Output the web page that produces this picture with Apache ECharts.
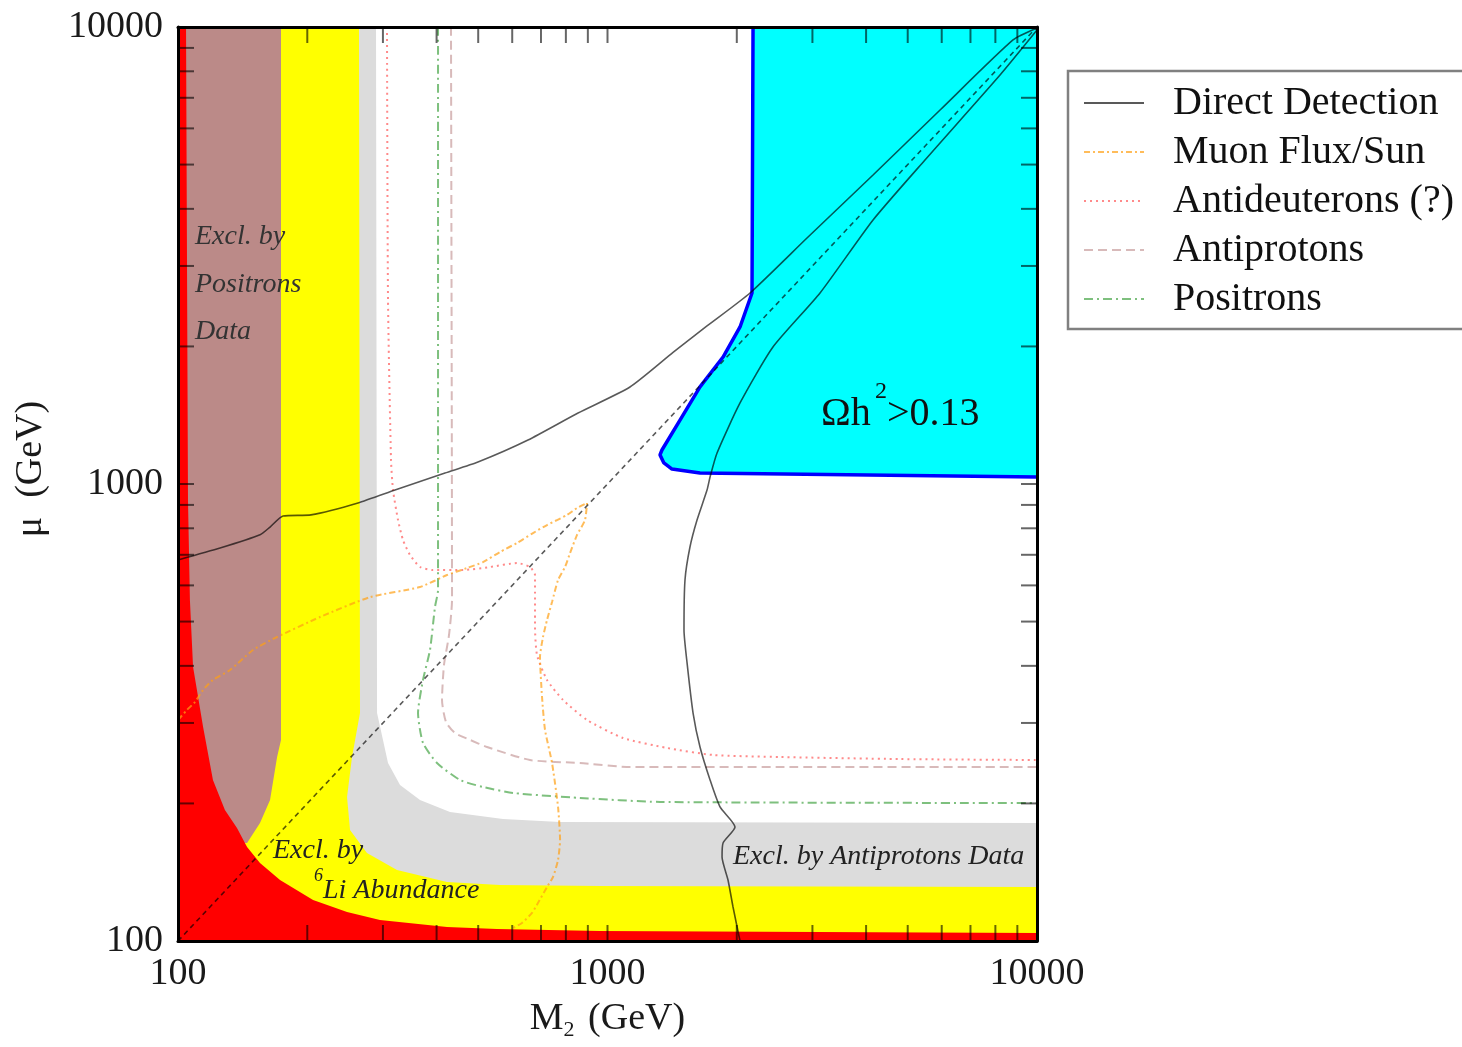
<!DOCTYPE html>
<html><head><meta charset="utf-8">
<script src="https://cdn.jsdelivr.net/npm/echarts@6/dist/echarts.min.js"></script>
<style>html,body{margin:0;padding:0;background:#fff}#c{width:1462px;height:1047px}</style>
</head><body><div id="c"></div>
<script>
// ---------------- data (M2 [GeV], mu [GeV]) ----------------
const xRange = [100, 10000];
const yRange = [100, 10000];
const majorTickLabels = [100, 1000, 10000];
const tickValues = [200,300,400,500,600,700,800,900,1000,2000,3000,4000,5000,6000,7000,8000,9000];

// excluded regions (boundary curves)
const redEdge = [[104.4,10000],[105.5,923],[106.6,557],[108.4,398],[114.4,294],[120.6,225],[128.6,193.5],[137.2,176.7],[144.8,160.6],[155.2,148.1],[172.8,136],[206.3,122.9],[247.5,115.7],[295.3,111.2],[423,107.3],[553,106.2],[960,105.2],[10000,104.1]];
const brownEdge = [[173.7,10000],[173.7,275.4],[170.1,252.7],[163.8,203.5],[155.2,181.3],[144.8,163.9]];
const yellowEdge = [[263.9,10000],[265.3,315.4],[259.7,282.3],[254.2,252.7],[247.5,206.6],[251.5,175],[275.4,155.8],[323.5,143],[423,134.6],[561.8,132.6],[960.5,131.9],[10000,131.3]];
const greyEdge = [[289.1,10000],[290.7,315.4],[300.1,275.4],[308.3,245.2],[328.8,219.4],[366,203.5],[429.8,191.5],[571,184.9],[775.4,182.2],[10000,181.3]];
const omegaEdge = [[2182,10000],[2170,2618],[2035,2206],[1858,1896],[1642,1631],[1475,1380],[1339,1187],[1325,1158],[1353,1112],[1413,1078],[1642,1057],[10000,1036]];

// curves
const directDetectionA = [[100,682],[125.3,724],[155.2,774],[163.8,805],[175.6,851],[204,856],[262.5,909],[320.1,970],[418.5,1057],[499.4,1117],[653,1248],[854,1430],[1128,1630],[1421,1940],[1705,2217],[2147,2618],[2914,3453],[4152,4744],[5947,6582],[8793,9367],[10000,9950]];
const directDetectionB = [[2035,100],[1960,118.7],[1908,136],[1848,152.7],[1858,163.9],[1981,177.7],[1828,196.5],[1733,225.1],[1642,265.8],[1582,315.4],[1532,405.9],[1507,479.2],[1515,616.4],[1556,728],[1616,834],[1705,970],[1733,1036],[1799,1169],[2035,1504],[2428,1994],[3125,2618],[4152,3782],[5485,5117],[8202,7852],[10000,9849]];
const muEqualsM2 = [[100,100],[1000,1000],[10000,10000]];
const muonFlux = [[100,304.5],[104.9,320.2],[109.5,333.4],[114.4,354.3],[120.6,372.6],[132.2,391.7],[149.5,433.3],[170.1,462.6],[214.1,511.6],[280,565.6],[366,595.1],[423,632.1],[470.8,654.8],[513,674.9],[561.8,709.9],[615.6,743],[670.9,781],[723.1,813.3],[805,855.6],[849.4,886.1],[896.1,909],[886.4,834],[849.4,773.6],[818.1,706.3],[796.4,658.2],[767.1,616.4],[742.8,551.9],[723.1,504],[707.7,462.6],[696.4,418.3],[704,342],[715.4,289.6],[742.8,245.2],[767.1,196.5],[775.4,166.3],[767.1,150.4],[746.8,138.1],[723.1,131.3],[688.8,121.1],[667.2,115.2],[632.2,109.5],[602.6,106.8]];
const antideuterons = [[306.6,10000],[308.3,2527],[313.3,1129],[316.7,970],[325.3,834],[334.1,754.3],[346.9,699.2],[366,658.2],[392.4,648.3],[460.8,648.3],[532.6,658.2],[615.6,671.5],[660,658.2],[678,632.1],[678,557.4],[678,486.5],[685.3,422.5],[723.1,372.6],[788,336.8],[896.1,304.5],[1087,278.1],[1376,264.5],[1761,255.3],[2521,252.7],[4797,250.1],[10000,248.9]];
const antiprotons = [[432.1,10000],[434.5,557.4],[427.6,467.3],[416.2,401.8],[411.8,336.8],[420.7,301.4],[441.6,285.2],[478.6,275.4],[524.1,265.8],[660,248.9],[862.9,245.2],[1128,240.3],[2521,240.3],[10000,240.3]];
const positrons = [[403.1,10000],[403.1,586.1],[396.6,538.2],[386.1,433.3],[371.9,372.6],[362.1,315.4],[371.9,271.3],[400.9,245.2],[453.5,225.1],[513,217.3],[602.6,210.8],[862.9,205.6],[1325,201.5],[10000,200.4]];

const legendNames = ['Direct Detection','Muon Flux/Sun','Antideuterons (?)','Antiprotons','Positrons'];

// ---------------- chart ----------------
const FONT = '"Liberation Serif", "Times New Roman", serif';
const chart = echarts.init(document.getElementById('c'), null, {renderer:'canvas'});

function polygonSeries(edge, closing, color, z) {
  const pts = edge.concat(closing);
  return {
    type:'custom', silent:true, z: z, clip:true, data: pts, encode:{x:0, y:1},
    renderItem: function(params, api) {
      if (params.dataIndex !== 0) return null;
      return {type:'polygon', shape:{points: pts.map(p => api.coord(p))}, style:{fill: color}};
    }
  };
}
function lineSeries(name, data, color, width, dash, z, smooth) {
  return {type:'line', name: name, data: data, symbol:'none', showSymbol:false, smooth: smooth || 0,
    z: z, silent:true, clip:true, lineStyle:{color: color, width: width, type: dash}, itemStyle:{color: color}};
}
const TL = 16, tickStyle = {stroke:'rgba(0,0,0,0.6)', lineWidth:2};
const xTickSeries = {
  type:'custom', silent:true, z:12, clip:false, data: tickValues.map(v => [v, yRange[0]]), encode:{x:0, y:1},
  renderItem: function(params, api) {
    const v = api.value(0);
    const b = api.coord([v, yRange[0]]), t = api.coord([v, yRange[1]]);
    return {type:'group', children:[
      {type:'line', shape:{x1:b[0], y1:b[1], x2:b[0], y2:b[1]-TL}, style:tickStyle},
      {type:'line', shape:{x1:t[0], y1:t[1], x2:t[0], y2:t[1]+TL}, style:tickStyle}
    ]};
  }
};
const yTickSeries = {
  type:'custom', silent:true, z:12, clip:false, data: tickValues.map(v => [xRange[0], v]), encode:{x:0, y:1},
  renderItem: function(params, api) {
    const v = api.value(1);
    const l = api.coord([xRange[0], v]), r = api.coord([xRange[1], v]);
    return {type:'group', children:[
      {type:'line', shape:{x1:l[0], y1:l[1], x2:l[0]+TL, y2:l[1]}, style:tickStyle},
      {type:'line', shape:{x1:r[0], y1:r[1], x2:r[0]-TL, y2:r[1]}, style:tickStyle}
    ]};
  }
};

const cornerClose = [[xRange[1], yRange[0]], [xRange[0], yRange[0]], [xRange[0], yRange[1]]];

const baseAxis = {type:'log', logBase:10, splitLine:{show:false}, axisTick:{show:false}, z:10,
  axisLine:{show:true, onZero:false, lineStyle:{color:'#000', width:3}}};

const option = {
  animation:false,
  backgroundColor:'#fff',
  grid:{left:178, top:27, right:425, bottom:106, containLabel:false},
  xAxis:[
    Object.assign({}, baseAxis, {min:xRange[0], max:xRange[1], position:'bottom',
      axisLabel:{fontSize:38, fontFamily:FONT, color:'#1a1a1a', margin:14, showMinLabel:true, showMaxLabel:true,
        formatter: v => majorTickLabels.includes(Math.round(v)) ? String(Math.round(v)) : ''},
      name:'{a|M}{s|2}{a| (GeV)}', nameLocation:'middle', nameGap:56,
      nameTextStyle:{rich:{a:{fontSize:38, fontFamily:FONT, color:'#1a1a1a', lineHeight:44},
                           s:{fontSize:22, fontFamily:FONT, color:'#1a1a1a', verticalAlign:'bottom', lineHeight:44, padding:[0,4,0,0]}}}}),
    Object.assign({}, baseAxis, {min:xRange[0], max:xRange[1], position:'top', axisLabel:{show:false}})
  ],
  yAxis:[
    Object.assign({}, baseAxis, {min:yRange[0], max:yRange[1], position:'left',
      axisLabel:{fontSize:38, fontFamily:FONT, color:'#1a1a1a', margin:15, showMinLabel:true, showMaxLabel:true,
        formatter: v => majorTickLabels.includes(Math.round(v)) ? String(Math.round(v)) : ''},
      name:'μ  (GeV)', nameLocation:'middle', nameRotate:90, nameGap:128,
      nameTextStyle:{fontSize:38, fontFamily:FONT, color:'#1a1a1a', padding:[0,0,0,30]}}),
    Object.assign({}, baseAxis, {min:yRange[0], max:yRange[1], position:'right', axisLabel:{show:false}})
  ],
  legend:{
    data: legendNames, orient:'vertical', left:1068, top:71, padding:[12,30,10,15], itemGap:9,
    itemWidth:60, itemHeight:6, selectedMode:false, borderColor:'#808080', borderWidth:2.5, backgroundColor:'#fff',
    itemStyle:{opacity:0},
    textStyle:{fontSize:40, fontFamily:FONT, color:'#111', padding:[0,0,0,24], lineHeight:38}
  },
  series:[
    polygonSeries(greyEdge, cornerClose, '#DCDCDC', 1),
    polygonSeries(yellowEdge, cornerClose, '#FFFF00', 2),
    polygonSeries(brownEdge, [[xRange[0], brownEdge[brownEdge.length-1][1]], [xRange[0], yRange[1]]], '#BB8A88', 3),
    polygonSeries(redEdge, cornerClose, '#FF0000', 4),
    polygonSeries(omegaEdge, [[xRange[1], yRange[1]]], '#00FFFF', 2),
    lineSeries('Ωh² boundary', omegaEdge, '#0000FF', 3.5, 'solid', 6, 0),
    lineSeries('Antiprotons', antiprotons, 'rgba(190,140,140,0.6)', 2, [9,5], 7, 0.2),
    lineSeries('Positrons', positrons, 'rgba(40,150,40,0.6)', 2, [9,4,2,4], 7, 0.2),
    lineSeries('Antideuterons (?)', antideuterons, 'rgba(255,60,60,0.6)', 2, [2,4], 7, 0.2),
    lineSeries('Muon Flux/Sun', muonFlux, 'rgba(255,160,20,0.7)', 2, [6,3,2,3], 7, 0.2),
    lineSeries('μ = M2', muEqualsM2, 'rgba(0,0,0,0.65)', 1.6, [5,4], 8, 0),
    lineSeries('Direct Detection', directDetectionA, 'rgba(0,0,0,0.65)', 1.6, 'solid', 8, 0.2),
    lineSeries('Direct Detection', directDetectionB, 'rgba(0,0,0,0.65)', 1.6, 'solid', 8, 0.2),
    xTickSeries, yTickSeries
  ],
  graphic:[
    {type:'text', x:195, y:237, z:20, style:{text:'Excl. by', fontSize:28, fontStyle:'italic', fontFamily:FONT, fill:'#333', verticalAlign:'middle'}},
    {type:'text', x:195, y:285, z:20, style:{text:'Positrons', fontSize:28, fontStyle:'italic', fontFamily:FONT, fill:'#333', verticalAlign:'middle'}},
    {type:'text', x:195, y:332, z:20, style:{text:'Data', fontSize:28, fontStyle:'italic', fontFamily:FONT, fill:'#333', verticalAlign:'middle'}},
    {type:'text', x:273, y:851, z:20, style:{text:'Excl. by', fontSize:28, fontStyle:'italic', fontFamily:FONT, fill:'#222', verticalAlign:'middle'}},
    {type:'text', x:314, y:876, z:20, style:{text:'6', fontSize:18, fontStyle:'italic', fontFamily:FONT, fill:'#222', verticalAlign:'middle'}},
    {type:'text', x:323, y:891, z:20, style:{text:'Li Abundance', fontSize:28, fontStyle:'italic', fontFamily:FONT, fill:'#222', verticalAlign:'middle'}},
    {type:'text', x:733, y:857, z:20, style:{text:'Excl. by Antiprotons Data', fontSize:28, fontStyle:'italic', fontFamily:FONT, fill:'#222', verticalAlign:'middle'}},
    {type:'text', x:821, y:414, z:20, style:{text:'Ωh', fontSize:40, fontFamily:FONT, fill:'#111', verticalAlign:'middle'}},
    {type:'text', x:875, y:392, z:20, style:{text:'2', fontSize:24, fontFamily:FONT, fill:'#111', verticalAlign:'middle'}},
    {type:'text', x:887, y:414, z:20, style:{text:'>0.13', fontSize:40, fontFamily:FONT, fill:'#111', verticalAlign:'middle'}}
  ]
};
chart.setOption(option);
</script></body></html>
